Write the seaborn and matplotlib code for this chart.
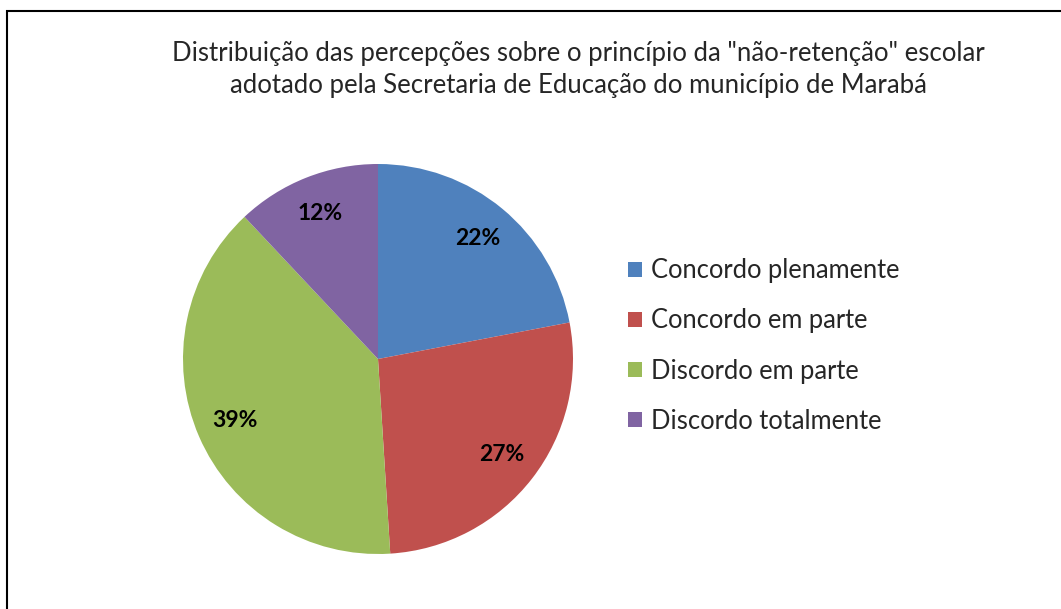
import matplotlib
matplotlib.use('Agg')
import matplotlib.pyplot as plt
import seaborn as sns
from matplotlib.patches import Rectangle

# data
categories = ["Concordo plenamente", "Concordo em parte", "Discordo em parte", "Discordo totalmente"]
percent = [22, 27, 39, 12]
colors = ["#4F81BD", "#C0504D", "#9BBB59", "#8064A2"]
title = ('Distribuição das percepções sobre o princípio da "não-retenção" escolar\n'
         'adotado pela Secretaria de Educação do município de Marabá')

sns.set_theme(style="white")
plt.rcParams['font.family'] = ['Lato', 'DejaVu Sans']

W, H = 1061, 609
fig = plt.figure(figsize=(W / 100, H / 100), dpi=100)

# pie axes placed around centre (378, 359) px with radius 195 px
cx, cy, r = 378, 359, 195
ax = fig.add_axes([(cx - r) / W, (H - cy - r) / H, 2 * r / W, 2 * r / H])
pal = sns.color_palette(colors)
wedges, texts, autotexts = ax.pie(percent, colors=pal, startangle=90, counterclock=False,
                                  autopct=lambda p: f"{p:.0f}%", pctdistance=0.8,
                                  wedgeprops=dict(linewidth=0))
for t in autotexts:
    t.set_fontsize(16.5)
    t.set_fontweight('bold')
    t.set_color('black')
ax.set_xlim(-1, 1)
ax.set_ylim(-1, 1)
ax.set_aspect('equal')

fig.text(578 / W, 1 - 69 / H, title, ha='center', va='center', fontsize=18.5,
         linespacing=1.35)

fig.legend(wedges, categories, loc='center left', bbox_to_anchor=(605 / W, 1 - 346 / H),
           frameon=False, fontsize=18.4, handlelength=0.55, handleheight=0.55,
           handletextpad=0.35, labelspacing=0.98)

# chart area border (continues past the right and bottom edges)
fig.patches.append(Rectangle((7 / W, -0.1), 1.2, 1 - 11 / H + 0.1, transform=fig.transFigure,
                             fill=False, edgecolor='black', linewidth=1.5))

fig.savefig('out.png', dpi=100)
